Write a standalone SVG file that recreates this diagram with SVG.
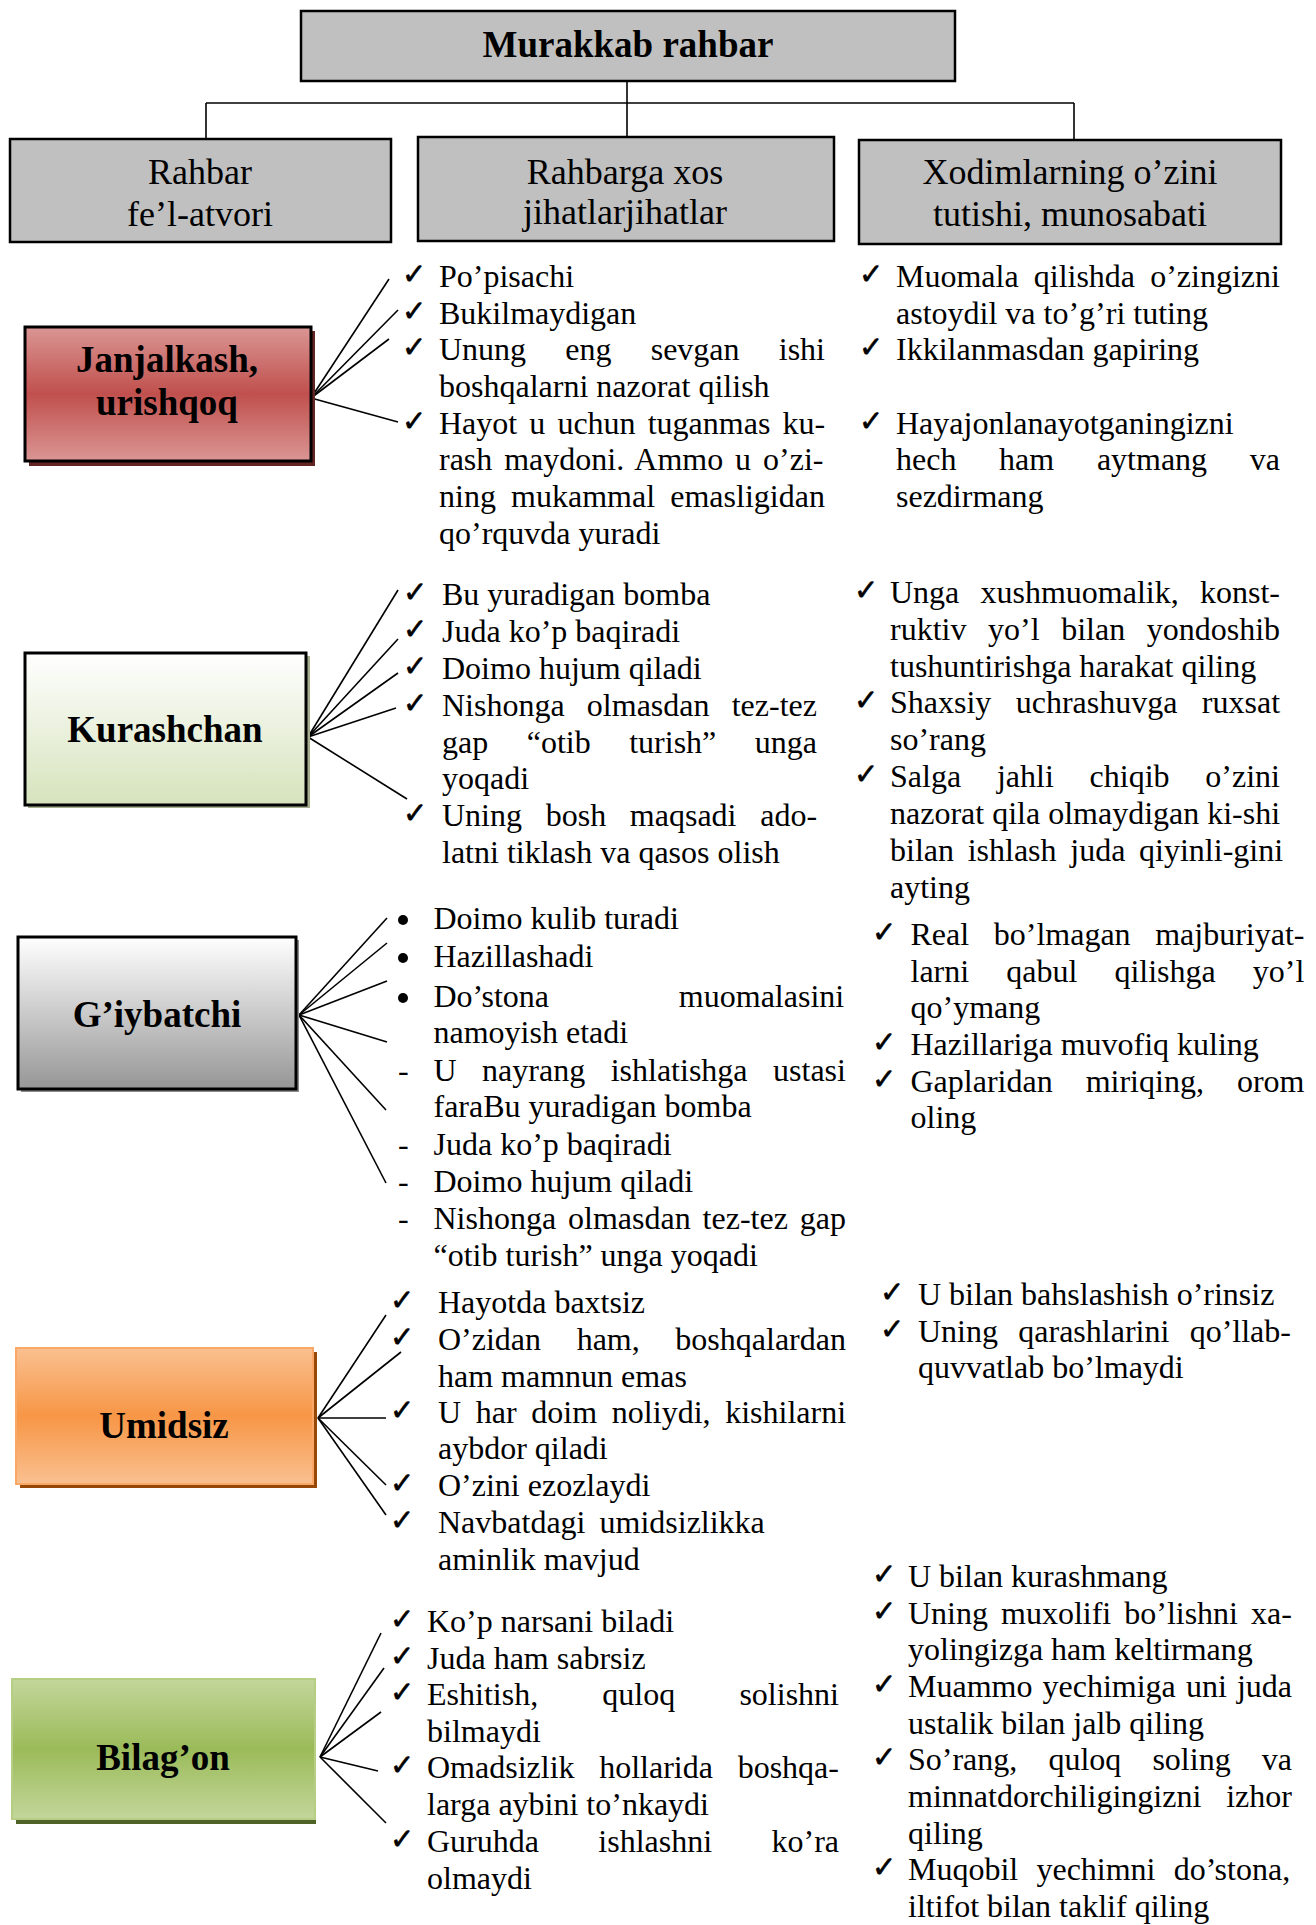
<svg xmlns="http://www.w3.org/2000/svg" width="1316" height="1925" viewBox="0 0 1316 1925">
<defs>
<style>
.t{font-family:"Liberation Serif","Times New Roman",serif;font-size:32px;fill:#000}
.h{font-family:"Liberation Serif","Times New Roman",serif;font-size:36px;text-anchor:middle;fill:#000}
.b{font-family:"Liberation Serif","Times New Roman",serif;font-size:37px;font-weight:bold;text-anchor:middle;fill:#000}
.ck{font-family:"DejaVu Sans",sans-serif;font-size:29px;fill:#000;stroke:#000;stroke-width:0.6}
.ln{stroke:#000;stroke-width:1.6;fill:none}
.hb{fill:#c0c0c0;stroke:#000;stroke-width:2.5}
</style>
<linearGradient id="gRed" x1="0" y1="0" x2="0" y2="1"><stop offset="0" stop-color="#da9694"/><stop offset="0.5" stop-color="#c0504d"/><stop offset="1" stop-color="#da9694"/></linearGradient>
<linearGradient id="gPale" x1="0" y1="0" x2="0" y2="1"><stop offset="0" stop-color="#ffffff"/><stop offset="1" stop-color="#d6e3bc"/></linearGradient>
<linearGradient id="gGray" x1="0" y1="0" x2="0" y2="1"><stop offset="0" stop-color="#ffffff"/><stop offset="1" stop-color="#969696"/></linearGradient>
<linearGradient id="gOrange" x1="0" y1="0" x2="0" y2="1"><stop offset="0" stop-color="#fac090"/><stop offset="0.5" stop-color="#f79646"/><stop offset="1" stop-color="#fac090"/></linearGradient>
<linearGradient id="gGreen" x1="0" y1="0" x2="0" y2="1"><stop offset="0" stop-color="#c3d69b"/><stop offset="0.5" stop-color="#9bbb59"/><stop offset="1" stop-color="#c3d69b"/></linearGradient>
</defs>
<rect x="0" y="0" width="1316" height="1925" fill="#fff"/>

<g id="connectors">
<line class="ln" x1="627" y1="81" x2="627" y2="137"/>
<line class="ln" x1="206" y1="103" x2="1074" y2="103"/>
<line class="ln" x1="206" y1="103" x2="206" y2="139"/>
<line class="ln" x1="1074" y1="103" x2="1074" y2="140"/>
<line class="ln" x1="311" y1="398" x2="389" y2="279"/>
<line class="ln" x1="311" y1="398" x2="398" y2="310"/>
<line class="ln" x1="311" y1="398" x2="389" y2="339"/>
<line class="ln" x1="311" y1="398" x2="398" y2="422"/>
<line class="ln" x1="308" y1="737" x2="398" y2="590"/>
<line class="ln" x1="308" y1="737" x2="398" y2="639"/>
<line class="ln" x1="308" y1="737" x2="398" y2="673"/>
<line class="ln" x1="308" y1="737" x2="396" y2="708"/>
<line class="ln" x1="308" y1="737" x2="407" y2="799"/>
<line class="ln" x1="299" y1="1015" x2="387" y2="918"/>
<line class="ln" x1="299" y1="1015" x2="387" y2="943"/>
<line class="ln" x1="299" y1="1015" x2="387" y2="981"/>
<line class="ln" x1="299" y1="1015" x2="387" y2="1042"/>
<line class="ln" x1="299" y1="1015" x2="386" y2="1110"/>
<line class="ln" x1="299" y1="1015" x2="386" y2="1183"/>
<line class="ln" x1="318" y1="1418" x2="386" y2="1315"/>
<line class="ln" x1="318" y1="1418" x2="401" y2="1352"/>
<line class="ln" x1="318" y1="1418" x2="386" y2="1418"/>
<line class="ln" x1="318" y1="1418" x2="386" y2="1485"/>
<line class="ln" x1="318" y1="1418" x2="386" y2="1515"/>
<line class="ln" x1="320" y1="1757" x2="381" y2="1633"/>
<line class="ln" x1="320" y1="1757" x2="384" y2="1668"/>
<line class="ln" x1="320" y1="1757" x2="381" y2="1712"/>
<line class="ln" x1="320" y1="1757" x2="378" y2="1771"/>
<line class="ln" x1="320" y1="1757" x2="386" y2="1823"/>
</g>

<g id="murakkab">
<rect class="hb" x="301" y="11" width="654" height="70"/>
<text class="b" x="628" y="57">Murakkab rahbar</text>
</g>
<g id="hdr-fel">
<rect class="hb" x="10" y="139" width="381" height="103"/>
<text class="h" x="200" y="184">Rahbar</text>
<text class="h" x="200" y="226">fe’l-atvori</text>
</g>
<g id="hdr-jihat">
<rect class="hb" x="418" y="137" width="416" height="104"/>
<text class="h" x="625" y="184">Rahbarga xos</text>
<text class="h" x="625" y="224">jihatlarjihatlar</text>
</g>
<g id="hdr-xodim">
<rect class="hb" x="859" y="140" width="422" height="104"/>
<text class="h" x="1070" y="184">Xodimlarning o’zini</text>
<text class="h" x="1070" y="226">tutishi, munosabati</text>
</g>

<g id="janjalkash">
<rect x="29" y="331" width="286" height="135" fill="#632523"/>
<rect x="25" y="327" width="286" height="134" fill="url(#gRed)" stroke="#000" stroke-width="3"/>
<text class="b" x="167" y="372">Janjalkash,</text>
<text class="b" x="167" y="415">urishqoq</text>
</g>
<g id="janjalkash-items">
<text class="ck" x="402" y="284">✓</text>
<text class="ck" x="402" y="320.5">✓</text>
<text class="ck" x="402" y="357">✓</text>
<text class="ck" x="402" y="430.5">✓</text>
<text class="t" x="439" y="287">Po’pisachi</text>
<text class="t" x="439" y="323.5">Bukilmaydigan</text>
<text class="t" x="439" y="360" style="word-spacing:31.2px">Unung eng sevgan ishi</text>
<text class="t" x="439" y="397">boshqalarni nazorat qilish</text>
<text class="t" x="439" y="433.5" style="word-spacing:4.1px">Hayot u uchun tuganmas ku-</text>
<text class="t" x="439" y="470" style="word-spacing:3.9px">rash maydoni. Ammo u o’zi-</text>
<text class="t" x="439" y="507" style="word-spacing:7.2px">ning mukammal emasligidan</text>
<text class="t" x="439" y="543.5">qo’rquvda yuradi</text>
</g>
<g id="janjalkash-advice">
<text class="ck" x="859" y="284">✓</text>
<text class="ck" x="859" y="357">✓</text>
<text class="ck" x="859" y="430.5">✓</text>
<text class="t" x="896" y="287" style="word-spacing:7.1px">Muomala qilishda o’zingizni</text>
<text class="t" x="896" y="323.5">astoydil va to’g’ri tuting</text>
<text class="t" x="896" y="360">Ikkilanmasdan gapiring</text>
<text class="t" x="896" y="433.5">Hayajonlanayotganingizni</text>
<text class="t" x="896" y="470" style="word-spacing:34.7px">hech ham aytmang va</text>
<text class="t" x="896" y="507">sezdirmang</text>
</g>

<g id="kurashchan">
<rect x="28" y="656" width="282" height="152" fill="#a5ae8f"/>
<rect x="25" y="653" width="281" height="152" fill="url(#gPale)" stroke="#000" stroke-width="3"/>
<text class="b" x="165" y="742">Kurashchan</text>
</g>
<g id="kurashchan-items">
<text class="ck" x="403" y="602">✓</text>
<text class="ck" x="403" y="639">✓</text>
<text class="ck" x="403" y="676">✓</text>
<text class="ck" x="403" y="713">✓</text>
<text class="ck" x="403" y="823">✓</text>
<text class="t" x="442" y="605">Bu yuradigan bomba</text>
<text class="t" x="442" y="642">Juda ko’p baqiradi</text>
<text class="t" x="442" y="679">Doimo hujum qiladi</text>
<text class="t" x="442" y="716" style="word-spacing:14.2px">Nishonga olmasdan tez-tez</text>
<text class="t" x="442" y="752.5" style="word-spacing:30.5px">gap “otib turish” unga</text>
<text class="t" x="442" y="789">yoqadi</text>
<text class="t" x="442" y="826" style="word-spacing:15.7px">Uning bosh maqsadi ado-</text>
<text class="t" x="442" y="863">latni tiklash va qasos olish</text>
</g>
<g id="kurashchan-advice">
<text class="ck" x="854" y="600">✓</text>
<text class="ck" x="854" y="710">✓</text>
<text class="ck" x="854" y="784">✓</text>
<text class="t" x="890" y="603" style="word-spacing:13.2px">Unga xushmuomalik, konst-</text>
<text class="t" x="890" y="640" style="word-spacing:13.6px">ruktiv yo’l bilan yondoshib</text>
<text class="t" x="890" y="676.5">tushuntirishga harakat qiling</text>
<text class="t" x="890" y="713" style="word-spacing:16.4px">Shaxsiy uchrashuvga ruxsat</text>
<text class="t" x="890" y="750">so’rang</text>
<text class="t" x="890" y="787" style="word-spacing:27.8px">Salga jahli chiqib o’zini</text>
<text class="t" x="890" y="824">nazorat qila olmaydigan ki-shi</text>
<text class="t" x="890" y="860.5" style="word-spacing:5.7px">bilan ishlash juda qiyinli-gini</text>
<text class="t" x="890" y="897.5">ayting</text>
</g>

<g id="giybatchi">
<rect x="21" y="940" width="278" height="152" fill="#8c8c8c"/>
<rect x="18" y="937" width="278" height="152" fill="url(#gGray)" stroke="#000" stroke-width="3"/>
<text class="b" x="157" y="1027">G’iybatchi</text>
</g>
<g id="giybatchi-items">
<circle cx="403" cy="920" r="5"/>
<circle cx="403" cy="958" r="5"/>
<circle cx="403" cy="998" r="5"/>
<text class="t" x="398" y="1081">-</text>
<text class="t" x="398" y="1155">-</text>
<text class="t" x="398" y="1192">-</text>
<text class="t" x="398" y="1229">-</text>
<text class="t" x="433.5" y="929">Doimo kulib turadi</text>
<text class="t" x="433.5" y="967">Hazillashadi</text>
<text class="t" x="433.5" y="1007" style="word-spacing:121.8px">Do’stona muomalasini</text>
<text class="t" x="433.5" y="1043">namoyish etadi</text>
<text class="t" x="433.5" y="1081" style="word-spacing:17.5px">U nayrang ishlatishga ustasi</text>
<text class="t" x="433.5" y="1117">faraBu yuradigan bomba</text>
<text class="t" x="433.5" y="1155">Juda ko’p baqiradi</text>
<text class="t" x="433.5" y="1192">Doimo hujum qiladi</text>
<text class="t" x="433.5" y="1229" style="word-spacing:3.9px">Nishonga olmasdan tez-tez gap</text>
<text class="t" x="433.5" y="1266">“otib turish” unga yoqadi</text>
</g>
<g id="giybatchi-advice">
<text class="ck" x="872" y="942">✓</text>
<text class="ck" x="872" y="1052">✓</text>
<text class="ck" x="872" y="1088.5">✓</text>
<text class="t" x="910.5" y="945" style="word-spacing:16.6px">Real bo’lmagan majburiyat-</text>
<text class="t" x="910.5" y="981.5" style="word-spacing:29.1px">larni qabul qilishga yo’l</text>
<text class="t" x="910.5" y="1018">qo’ymang</text>
<text class="t" x="910.5" y="1055">Hazillariga muvofiq kuling</text>
<text class="t" x="910.5" y="1091.5" style="word-spacing:25px">Gaplaridan miriqing, orom</text>
<text class="t" x="910.5" y="1128">oling</text>
</g>

<g id="umidsiz">
<rect x="20" y="1352" width="297" height="136" fill="#984806"/>
<rect x="16" y="1348" width="297" height="136" fill="url(#gOrange)" stroke="#f9a868" stroke-width="2"/>
<text class="b" x="164" y="1438">Umidsiz</text>
</g>
<g id="umidsiz-items">
<text class="ck" x="390" y="1310">✓</text>
<text class="ck" x="390" y="1347">✓</text>
<text class="ck" x="390" y="1420">✓</text>
<text class="ck" x="390" y="1493">✓</text>
<text class="ck" x="390" y="1530">✓</text>
<text class="t" x="438" y="1313">Hayotda baxtsiz</text>
<text class="t" x="438" y="1350" style="word-spacing:27.6px">O’zidan ham, boshqalardan</text>
<text class="t" x="438" y="1386.5">ham mamnun emas</text>
<text class="t" x="438" y="1423" style="word-spacing:6.7px">U har doim noliydi, kishilarni</text>
<text class="t" x="438" y="1458.5">aybdor qiladi</text>
<text class="t" x="438" y="1496">O’zini ezozlaydi</text>
<text class="t" x="438" y="1533" style="word-spacing:6px">Navbatdagi umidsizlikka</text>
<text class="t" x="438" y="1570">aminlik mavjud</text>
</g>
<g id="umidsiz-advice">
<text class="ck" x="880" y="1302">✓</text>
<text class="ck" x="880" y="1338.5">✓</text>
<text class="t" x="918" y="1305">U bilan bahslashish o’rinsiz</text>
<text class="t" x="918" y="1341.5" style="word-spacing:12.3px">Uning qarashlarini qo’llab-</text>
<text class="t" x="918" y="1378">quvvatlab bo’lmaydi</text>
</g>

<g id="bilagon">
<rect x="16" y="1683" width="300" height="141" fill="#4f6228"/>
<rect x="12" y="1679" width="303" height="140" fill="url(#gGreen)" stroke="#b5cd85" stroke-width="2"/>
<text class="b" x="163" y="1770">Bilag’on</text>
</g>
<g id="bilagon-items">
<text class="ck" x="390" y="1629">✓</text>
<text class="ck" x="390" y="1665.5">✓</text>
<text class="ck" x="390" y="1702">✓</text>
<text class="ck" x="390" y="1775">✓</text>
<text class="ck" x="390" y="1849">✓</text>
<text class="t" x="427" y="1632">Ko’p narsani biladi</text>
<text class="t" x="427" y="1668.5">Juda ham sabrsiz</text>
<text class="t" x="427" y="1705" style="word-spacing:56.2px">Eshitish, quloq solishni</text>
<text class="t" x="427" y="1741.5">bilmaydi</text>
<text class="t" x="427" y="1778" style="word-spacing:16.7px">Omadsizlik hollarida boshqa-</text>
<text class="t" x="427" y="1815">larga aybini to’nkaydi</text>
<text class="t" x="427" y="1852" style="word-spacing:51.4px">Guruhda ishlashni ko’ra</text>
<text class="t" x="427" y="1888.5">olmaydi</text>
</g>
<g id="bilagon-advice">
<text class="ck" x="872" y="1584">✓</text>
<text class="ck" x="872" y="1620.5">✓</text>
<text class="ck" x="872" y="1694">✓</text>
<text class="ck" x="872" y="1767">✓</text>
<text class="ck" x="872" y="1877">✓</text>
<text class="t" x="908" y="1587">U bilan kurashmang</text>
<text class="t" x="908" y="1623.5" style="word-spacing:5px">Uning muxolifi bo’lishni xa-</text>
<text class="t" x="908" y="1660">yolingizga ham keltirmang</text>
<text class="t" x="908" y="1697" style="word-spacing:2.1px">Muammo yechimiga uni juda</text>
<text class="t" x="908" y="1733.5">ustalik bilan jalb qiling</text>
<text class="t" x="908" y="1770" style="word-spacing:23.1px">So’rang, quloq soling va</text>
<text class="t" x="908" y="1807" style="word-spacing:16.9px">minnatdorchiligingizni izhor</text>
<text class="t" x="908" y="1843.5">qiling</text>
<text class="t" x="908" y="1880" style="word-spacing:10.2px">Muqobil yechimni do’stona,</text>
<text class="t" x="908" y="1917">iltifot bilan taklif qiling</text>
</g>
</svg>
